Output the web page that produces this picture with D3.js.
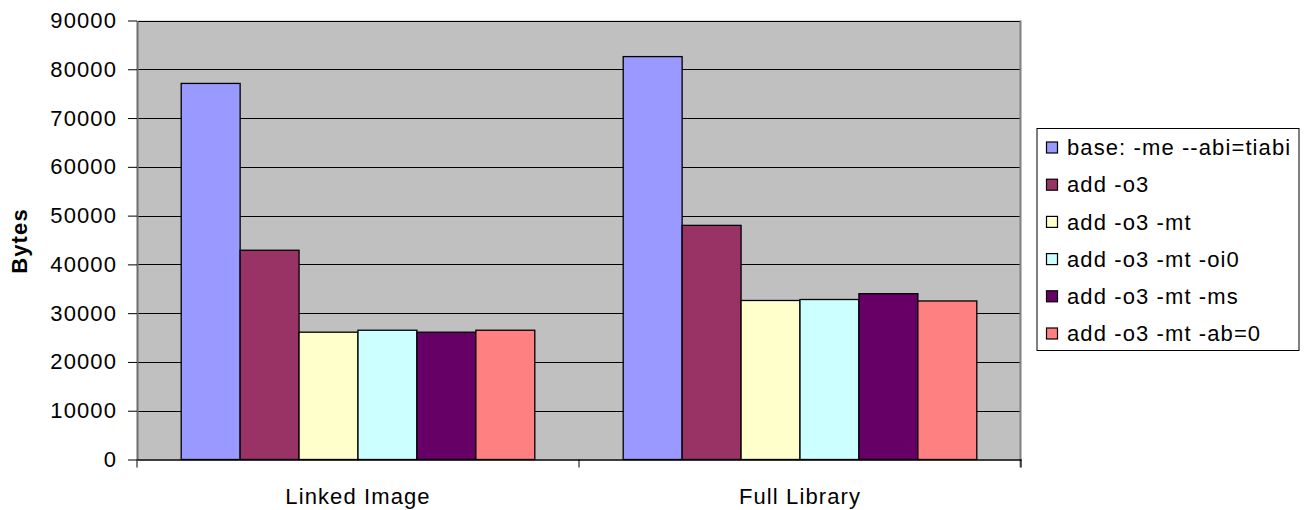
<!DOCTYPE html>
<html>
<head>
<meta charset="utf-8">
<script src="https://cdn.jsdelivr.net/npm/d3@7"></script>
<style>
  html, body { margin: 0; padding: 0; background: #fff; }
  svg { display: block; font-family: "Liberation Sans", Arial, sans-serif; }
  svg text { letter-spacing: 1.1px; }
</style>
</head>
<body>
<svg id="chart" width="1306" height="510"></svg>
<script>
// Code size in bytes for two build targets under successive compiler options
const categories = ["Linked Image", "Full Library"];
const seriesNames = [
  "base: -me --abi=tiabi",
  "add -o3",
  "add -o3 -mt",
  "add -o3 -mt -oi0",
  "add -o3 -mt -ms",
  "add -o3 -mt -ab=0"
];
const linkedImage = [77100, 42900, 26100, 26500, 26100, 26500];
const fullLibrary = [82600, 48000, 32600, 32800, 34000, 32500];
const yTicks = [0, 10000, 20000, 30000, 40000, 50000, 60000, 70000, 80000, 90000];
const colors = ["#9999FF", "#993366", "#FFFFCC", "#CCFFFF", "#660066", "#FF8080"];

const valuesByCategory = [linkedImage, fullLibrary];

const svg = d3.select("#chart");
const plot = { left: 137, right: 1021, top: 20.5, bottom: 459.5 };
const fontSize = 22;

const x0 = d3.scaleBand()
  .domain(categories)
  .range([plot.left, plot.right])
  .padding(0);

const x1 = d3.scaleBand()
  .domain(seriesNames)
  .range([0, x0.bandwidth()])
  .paddingInner(0)
  .paddingOuter(0.75);

const y = d3.scaleLinear()
  .domain([0, 90000])
  .range([plot.bottom, plot.top]);

const color = d3.scaleOrdinal().domain(seriesNames).range(colors);

// plot area background
svg.append("rect")
  .attr("x", plot.left)
  .attr("y", plot.top)
  .attr("width", plot.right - plot.left)
  .attr("height", plot.bottom - plot.top)
  .attr("fill", "#C0C0C0");

// horizontal gridlines
svg.append("g")
  .selectAll("line")
  .data(yTicks.filter(d => d > 0))
  .join("line")
  .attr("x1", plot.left)
  .attr("x2", plot.right)
  .attr("y1", d => Math.round(y(d)) + 0.5)
  .attr("y2", d => Math.round(y(d)) + 0.5)
  .attr("stroke", "#000")
  .attr("stroke-width", 1);

// right edge of plot area
svg.append("line")
  .attr("x1", plot.right - 0.5).attr("x2", plot.right - 0.5)
  .attr("y1", plot.top).attr("y2", plot.bottom + 8)
  .attr("stroke", "#808080")
  .attr("stroke-width", 2);

// bars
const rows = categories.map((c, i) => ({
  category: c,
  values: seriesNames.map((s, j) => ({ series: s, value: valuesByCategory[i][j] }))
}));

svg.append("g")
  .selectAll("g")
  .data(rows)
  .join("g")
  .attr("transform", d => `translate(${x0(d.category)},0)`)
  .selectAll("rect")
  .data(d => d.values)
  .join("rect")
  .attr("x", d => x1(d.series))
  .attr("y", d => y(d.value))
  .attr("width", x1.bandwidth())
  .attr("height", d => y(0) - y(d.value))
  .attr("fill", d => color(d.series))
  .attr("stroke", "#000")
  .attr("stroke-width", 1.3);

// y axis
const yAxis = svg.append("g")
  .attr("transform", `translate(${plot.left},0)`)
  .call(d3.axisLeft(y).tickValues(yTicks).tickFormat(d3.format("d")).tickSizeInner(9).tickSizeOuter(0).tickPadding(11));
yAxis.select(".domain").attr("stroke", "#6e6e6e").attr("stroke-width", 2);
yAxis.selectAll(".tick line").attr("stroke", "#000");
yAxis.selectAll(".tick text")
  .attr("font-size", fontSize)
  .attr("font-family", "Liberation Sans, Arial, sans-serif")
  .attr("fill", "#000");

// x axis
const xAxis = svg.append("g")
  .attr("transform", `translate(0,${plot.bottom})`)
  .call(d3.axisBottom(x0).tickSize(0).tickPadding(29));
xAxis.select(".domain").attr("stroke", "#000").attr("stroke-width", 1.5);
xAxis.selectAll(".tick text")
  .attr("font-size", fontSize)
  .attr("font-family", "Liberation Sans, Arial, sans-serif")
  .attr("fill", "#000");

// category separator ticks
const sepTicks = [plot.left, ...categories.map(c => x0(c) + x0.bandwidth())];
svg.append("g")
  .selectAll("line")
  .data(sepTicks)
  .join("line")
  .attr("x1", d => d)
  .attr("x2", d => d)
  .attr("y1", plot.bottom)
  .attr("y2", plot.bottom + 8)
  .attr("stroke", "#000");

// y axis title
svg.append("text")
  .attr("transform", `translate(27,${(plot.top + plot.bottom) / 2 + 1}) rotate(-90)`)
  .attr("text-anchor", "middle")
  .attr("font-size", fontSize)
  .attr("font-weight", "bold")
  .attr("fill", "#000")
  .text("Bytes");

// legend
const legend = svg.append("g").attr("transform", "translate(1037,128.5)");
legend.append("rect")
  .attr("width", 262)
  .attr("height", 222)
  .attr("fill", "#fff")
  .attr("stroke", "#000")
  .attr("stroke-width", 1);

const item = legend.selectAll("g.item")
  .data(seriesNames)
  .join("g")
  .attr("class", "item")
  .attr("transform", (d, i) => `translate(0,${19 + i * 37.2})`);

item.append("rect")
  .attr("x", 9.5)
  .attr("y", -5.5)
  .attr("width", 11)
  .attr("height", 11)
  .attr("fill", d => color(d))
  .attr("stroke", "#000")
  .attr("stroke-width", 1.2);

item.append("text")
  .attr("x", 30)
  .attr("y", 0)
  .attr("dy", "0.35em")
  .attr("font-size", fontSize)
  .attr("fill", "#000")
  .text(d => d);
</script>
</body>
</html>
